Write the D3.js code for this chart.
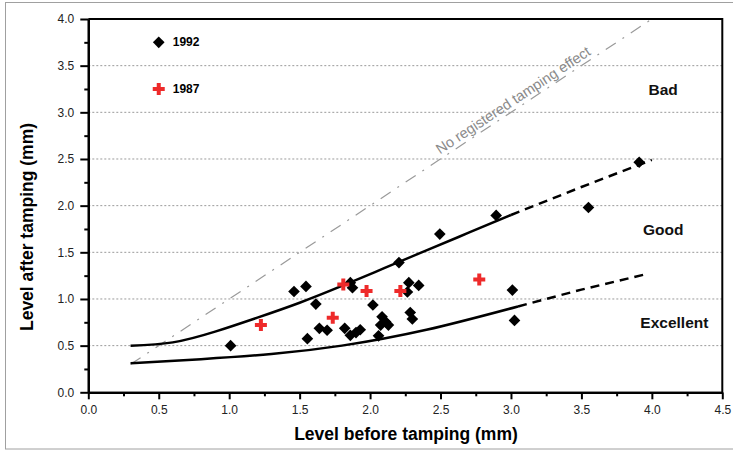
<!DOCTYPE html>
<html>
<head>
<meta charset="utf-8">
<script src="https://cdn.jsdelivr.net/npm/d3@7"></script>
<style>
  body { margin: 0; background: #fff; }
  svg { display: block; font-family: "Liberation Sans", Arial, sans-serif; }
</style>
</head>
<body>
<div id="chart"></div>
<script>
// data
const points1992 = [
    [1.01, 0.50], [1.46, 1.08], [1.545, 1.135], [1.615, 0.945], [1.555, 0.575],
    [1.64, 0.685], [1.695, 0.665], [1.86, 1.175], [1.875, 1.12], [1.82, 0.685],
    [1.86, 0.61], [1.90, 0.64], [1.93, 0.67], [2.02, 0.935], [2.085, 0.81],
    [2.11, 0.755], [2.075, 0.72], [2.13, 0.72], [2.06, 0.605], [2.205, 1.39],
    [2.275, 1.175], [2.345, 1.145], [2.265, 1.075], [2.285, 0.855], [2.30, 0.785],
    [2.495, 1.695], [2.895, 1.895], [3.55, 1.98], [3.01, 1.095], [3.025, 0.77],
    [3.91, 2.465]
];
const points1987 = [
    [1.225, 0.72], [1.735, 0.80], [1.81, 1.155], [1.975, 1.085], [2.215, 1.085], [2.775, 1.21]
];
const upperSolid = [[0.3, 0.5], [0.6, 0.535], [0.9, 0.65], [1.2, 0.8], [1.5, 0.96],
    [1.8, 1.14], [2.1, 1.33], [2.4, 1.52], [2.7, 1.71], [3.0, 1.9]];
const upperDashed = [[3.0, 1.9], [3.5, 2.2], [4.0, 2.49]];
const lowerSolid = [[0.3, 0.31], [0.8, 0.355], [1.3, 0.41], [1.8, 0.5], [2.4, 0.67], [3.05, 0.92]];
const lowerDashed = [[3.05, 0.92], [3.5, 1.1], [3.97, 1.27]];
const noEffectLine = [[0.3, 0.3], [4.0, 4.0]];

const xTicks = [0, 0.5, 1, 1.5, 2, 2.5, 3, 3.5, 4, 4.5];
const yTicks = [0, 0.5, 1, 1.5, 2, 2.5, 3, 3.5, 4];
const gridValues = [0.5, 1, 1.5, 2, 2.5, 3, 3.5];
const legendItems = [{ label: "1992", x: 0.5, y: 3.75 }, { label: "1987", x: 0.5, y: 3.25 }];
const zoneLabels = [
    { label: "Bad", x: 4.08, y: 3.19 },
    { label: "Good", x: 4.08, y: 1.69 },
    { label: "Excellent", x: 4.16, y: 0.69 }
];

const width = 733, height = 450;
const svg = d3.select("#chart").append("svg")
    .attr("width", width)
    .attr("height", height);

// outer grey frame
svg.append("rect")
    .attr("x", 5.5).attr("y", 2.5)
    .attr("width", 740).attr("height", 446.5)
    .attr("fill", "none").attr("stroke", "#a0a0a0");

const xScale = d3.scaleLinear().domain([0, 4.5]).range([88.3, 722.3]);
const yScale = d3.scaleLinear().domain([0, 4]).range([392.3, 19]);

// grid
svg.append("g").selectAll("line")
    .data(gridValues)
    .enter().append("line")
    .attr("x1", xScale(0)).attr("x2", xScale(4.5))
    .attr("y1", d => yScale(d)).attr("y2", d => yScale(d))
    .attr("stroke", "#9a9a9a")
    .attr("stroke-dasharray", "2,2");

// frame top / right
svg.append("path")
    .attr("d", `M${xScale(0)},${yScale(4)}H${xScale(4.5)}V${yScale(0)}`)
    .attr("fill", "none").attr("stroke", "#000").attr("stroke-width", 2);

// axes
const xAxis = d3.axisBottom(xScale).tickValues(xTicks).tickFormat(d3.format(".1f"))
    .tickSize(7).tickSizeOuter(0).tickPadding(6);
const xMinor = d3.axisBottom(xScale).tickValues(xTicks.slice(0, -1).map(d => d + 0.25))
    .tickFormat("").tickSize(4).tickSizeOuter(0);
const yAxis = d3.axisLeft(yScale).tickValues(yTicks).tickFormat(d3.format(".1f"))
    .tickSize(8).tickSizeOuter(0).tickPadding(6);
const yMinor = d3.axisLeft(yScale).tickValues(yTicks.slice(0, -1).map(d => d + 0.25))
    .tickFormat("").tickSize(4).tickSizeOuter(0);

function styleAxis(g) {
    g.select(".domain").attr("stroke-width", 2.2);
    g.selectAll(".tick line").attr("stroke-width", 2);
    g.selectAll(".tick text").attr("font-size", 12).attr("fill", "#222")
        .attr("font-family", "Liberation Sans, Arial, sans-serif");
}

svg.append("g").attr("transform", `translate(0,${yScale(0)})`).call(xMinor).call(styleAxis);
svg.append("g").attr("transform", `translate(0,${yScale(0)})`).call(xAxis).call(styleAxis);
svg.append("g").attr("transform", `translate(${xScale(0)},0)`).call(yMinor).call(styleAxis);
svg.append("g").attr("transform", `translate(${xScale(0)},0)`).call(yAxis).call(styleAxis);

// axis titles
svg.append("text")
    .attr("x", 406).attr("y", 440)
    .attr("text-anchor", "middle")
    .attr("font-size", 17.5).attr("font-weight", "bold")
    .text("Level before tamping (mm)");

svg.append("text")
    .attr("transform", "translate(33,227) rotate(-90)")
    .attr("text-anchor", "middle")
    .attr("font-size", 17.5).attr("font-weight", "bold")
    .text("Level after tamping (mm)");

const line = d3.line().x(d => xScale(d[0])).y(d => yScale(d[1]));
const curve = d3.line().x(d => xScale(d[0])).y(d => yScale(d[1])).curve(d3.curveNatural);

// no effect line
svg.append("path")
    .attr("d", line(noEffectLine))
    .attr("fill", "none").attr("stroke", "#9a9a9a").attr("stroke-width", 1.2)
    .attr("stroke-dasharray", "12,8,2,8");

const angle = Math.atan2(yScale(0) - yScale(1), xScale(1) - xScale(0)) * 180 / Math.PI;
svg.append("text")
    .attr("transform", `translate(${xScale(3.05)},${yScale(3.05)}) rotate(${-angle})`)
    .attr("dy", -4)
    .attr("text-anchor", "middle")
    .attr("font-size", 14.5).attr("fill", "#8a8a8a")
    .text("No registered tamping effect");

// boundary curves
[upperSolid, lowerSolid].forEach(d => {
    svg.append("path").attr("d", curve(d))
        .attr("fill", "none").attr("stroke", "#000").attr("stroke-width", 2.5);
});
[upperDashed, lowerDashed].forEach(d => {
    svg.append("path").attr("d", line(d))
        .attr("fill", "none").attr("stroke", "#000").attr("stroke-width", 2.5)
        .attr("stroke-dasharray", "9,6");
});

// markers
const diamond = d3.symbol().type(d3.symbolSquare).size(68);
const cross = d3.symbol().type(d3.symbolCross).size(80);

svg.append("g").selectAll("path")
    .data(points1992)
    .enter().append("path")
    .attr("d", diamond)
    .attr("transform", d => `translate(${xScale(d[0])},${yScale(d[1])}) rotate(45)`)
    .attr("fill", "#000");

svg.append("g").selectAll("path")
    .data(points1987)
    .enter().append("path")
    .attr("d", cross)
    .attr("transform", d => `translate(${xScale(d[0])},${yScale(d[1])})`)
    .attr("fill", "#ee2a2a");

// legend
svg.append("path").attr("d", diamond)
    .attr("transform", `translate(${xScale(legendItems[0].x)},${yScale(legendItems[0].y)}) rotate(45)`)
    .attr("fill", "#000");
svg.append("path").attr("d", cross)
    .attr("transform", `translate(${xScale(legendItems[1].x)},${yScale(legendItems[1].y)})`)
    .attr("fill", "#ee2a2a");
legendItems.forEach(d => {
    svg.append("text")
        .attr("x", xScale(d.x) + 14).attr("y", yScale(d.y) + 4)
        .attr("font-size", 12).attr("font-weight", "bold")
        .text(d.label);
});

// zone labels
zoneLabels.forEach(d => {
    svg.append("text")
        .attr("x", xScale(d.x)).attr("y", yScale(d.y))
        .attr("text-anchor", "middle")
        .attr("font-size", 15.5).attr("font-weight", "bold")
        .attr("fill", "#111")
        .text(d.label);
});
</script>
</body>
</html>
